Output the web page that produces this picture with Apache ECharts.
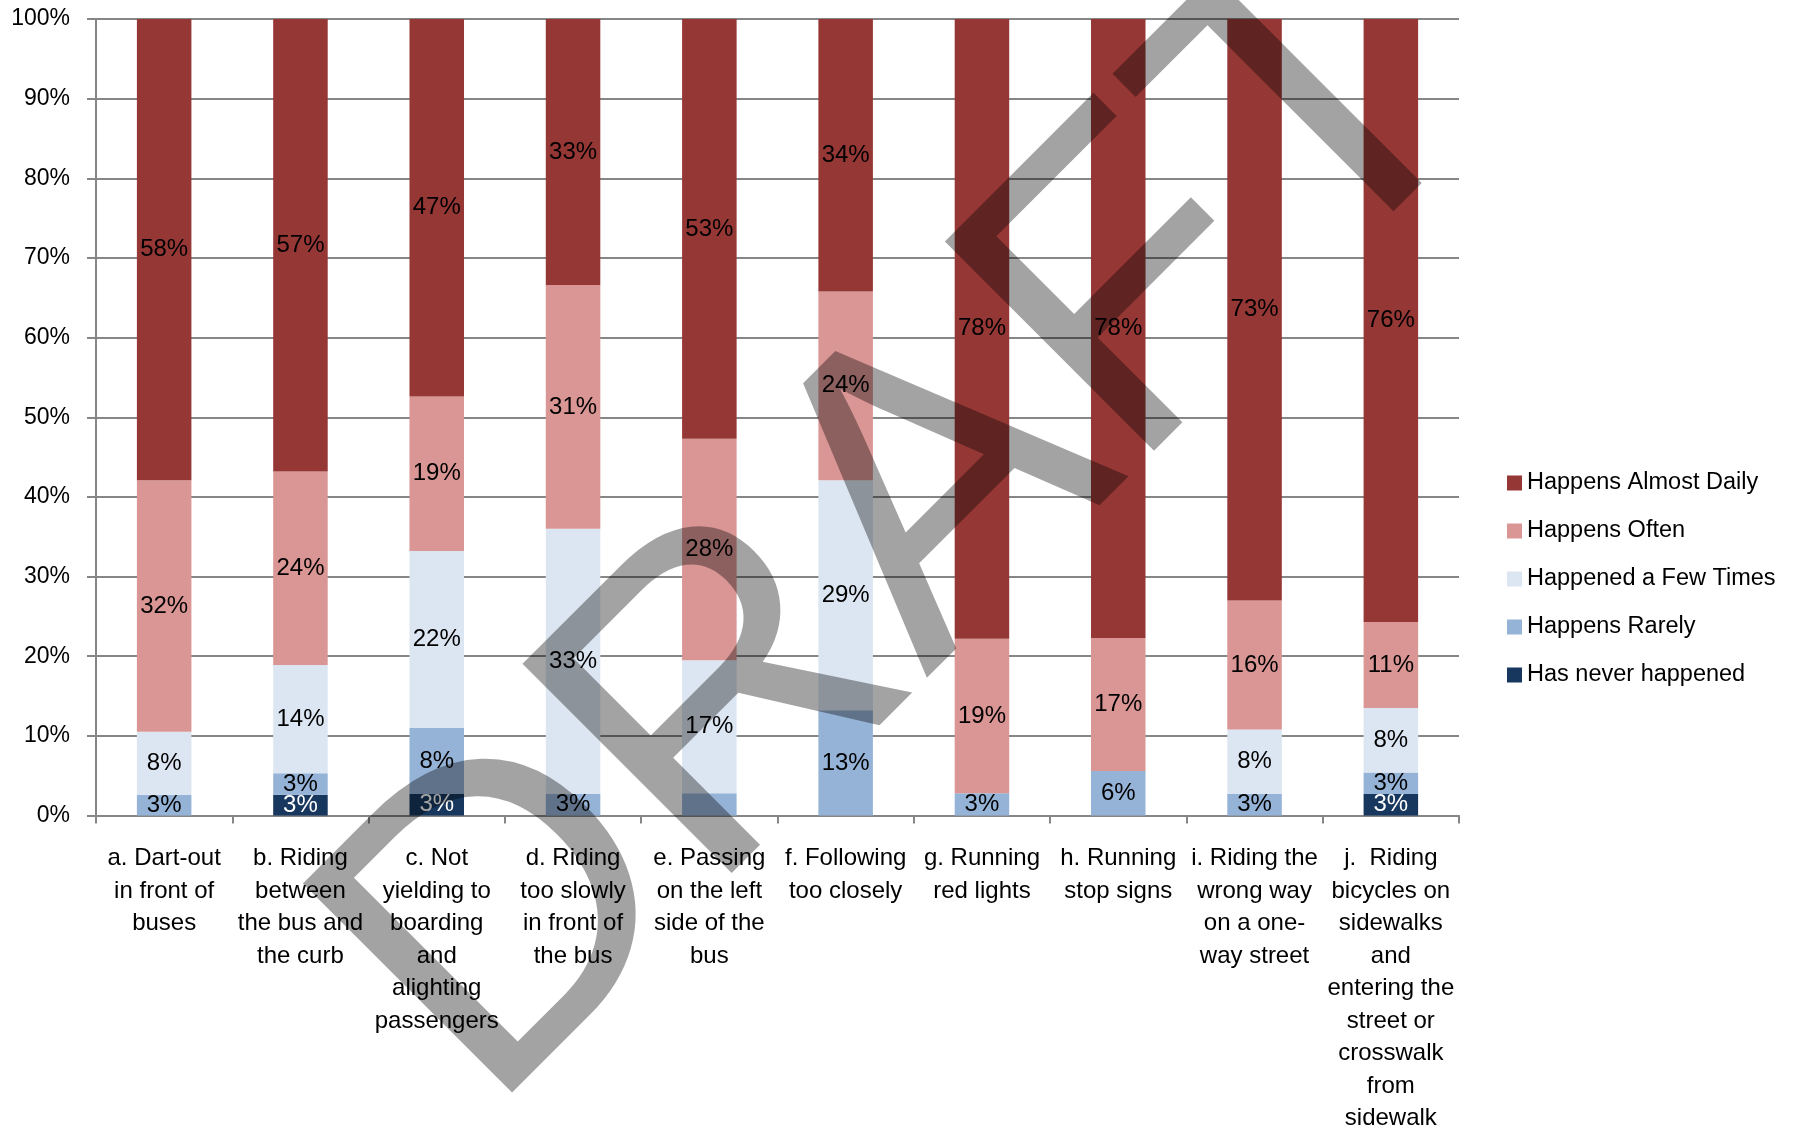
<!DOCTYPE html>
<html>
<head>
<meta charset="utf-8">
<style>
  html, body { margin: 0; padding: 0; background: #fff; }
  #chart { width: 1795px; height: 1135px; }
</style>
<script src="https://cdn.jsdelivr.net/npm/echarts@6/dist/echarts.min.js"></script>
</head>
<body>
<div id="chart"></div>
<script>
const categories = [
  'a. Dart-out\nin front of\nbuses',
  'b. Riding\nbetween\nthe bus and\nthe curb',
  'c. Not\nyielding to\nboarding\nand\nalighting\npassengers',
  'd. Riding\ntoo slowly\nin front of\nthe bus',
  'e. Passing\non the left\nside of the\nbus',
  'f. Following\ntoo closely',
  'g. Running\nred lights',
  'h. Running\nstop signs',
  'i. Riding the\nwrong way\non a one-\nway street',
  'j.  Riding\nbicycles on\nsidewalks\nand\nentering the\nstreet or\ncrosswalk\nfrom\nsidewalk'
]

// percent of respondents, bottom to top of each stack
const neverHappened = [0, 2.6, 2.7, 0, 0, 0, 0, 0, 0, 2.7]
const happensRarely = [2.6, 2.7, 8.3, 2.7, 2.8, 13.2, 2.8, 5.6, 2.7, 2.7]
const fewTimes = [7.9, 13.6, 22.2, 33.3, 16.7, 28.9, 0, 0, 8.1, 8.1]
const happensOften = [31.6, 24.3, 19.4, 30.6, 27.8, 23.7, 19.4, 16.7, 16.2, 10.8]
const almostDaily = [57.9, 56.8, 47.4, 33.4, 52.8, 34.2, 77.8, 77.8, 73.0, 75.7]

// the e. rarely segment carries no label in the original
const hiddenLabels = { 'Happens Rarely': [4] }

const yTicks = { min: 0, max: 100, interval: 10 }

const font = "'Liberation Sans', Arial, sans-serif"
const gridColor = '#868686'

function makeSeries(name, values, color, labelColor) {
  const hide = hiddenLabels[name] || []
  return {
    name: name,
    type: 'bar',
    stack: 'total',
    barWidth: '40%',
    itemStyle: { color: color },
    label: {
      show: true,
      position: 'inside',
      color: labelColor,
      fontFamily: font,
      fontSize: 24,
      formatter: p => (p.value > 0 ? Math.round(p.value) + '%' : '')
    },
    data: values.map((v, i) => (hide.indexOf(i) >= 0 ? { value: v, label: { show: false } } : v))
  }
}

const chart = echarts.init(document.getElementById('chart'), null, { renderer: 'canvas' })

chart.setOption({
  backgroundColor: '#fff',
  animation: false,
  grid: {
    left: 96,
    right: 336,
    top: 19,
    bottom: 315
  },
  legend: {
    orient: 'vertical',
    left: 1502,
    top: 465,
    itemWidth: 15,
    itemHeight: 15,
    itemGap: 22,
    icon: 'rect',
    textStyle: { fontFamily: font, fontSize: 23.5, lineHeight: 26, color: '#000' },
    data: ['Happens Almost Daily', 'Happens Often', 'Happened a Few Times', 'Happens Rarely', 'Has never happened']
  },
  xAxis: {
    type: 'category',
    data: categories,
    axisLine: { lineStyle: { color: gridColor, width: 2 } },
    axisTick: { show: true, length: 8, lineStyle: { color: gridColor, width: 2 } },
    axisLabel: {
      interval: 0,
      margin: 27,
      color: '#000',
      fontFamily: font,
      fontSize: 24,
      lineHeight: 32.5
    }
  },
  yAxis: {
    type: 'value',
    min: yTicks.min,
    max: yTicks.max,
    interval: yTicks.interval,
    axisLine: { show: true, lineStyle: { color: gridColor, width: 2 } },
    axisTick: { show: true, length: 9, lineStyle: { color: gridColor, width: 2 } },
    splitLine: { lineStyle: { color: gridColor, width: 2 } },
    axisLabel: {
      formatter: '{value}%',
      margin: 26,
      color: '#000',
      fontFamily: font,
      fontSize: 23
    }
  },
  graphic: [{
    type: 'text',
    z: 3,
    silent: true,
    x: 910,
    y: 527,
    rotation: Math.PI / 4,
    style: {
      text: 'DRAFT',
      font: '430px ' + font,
      fill: 'rgba(0,0,0,0.36)',
      align: 'center',
      verticalAlign: 'middle'
    }
  }],
  series: [
    makeSeries('Has never happened', neverHappened, '#17375E', '#fff'),
    makeSeries('Happens Rarely', happensRarely, '#95B3D7', '#000'),
    makeSeries('Happened a Few Times', fewTimes, '#DCE6F2', '#000'),
    makeSeries('Happens Often', happensOften, '#D99694', '#000'),
    makeSeries('Happens Almost Daily', almostDaily, '#953735', '#000')
  ]
})
</script>
</body>
</html>
